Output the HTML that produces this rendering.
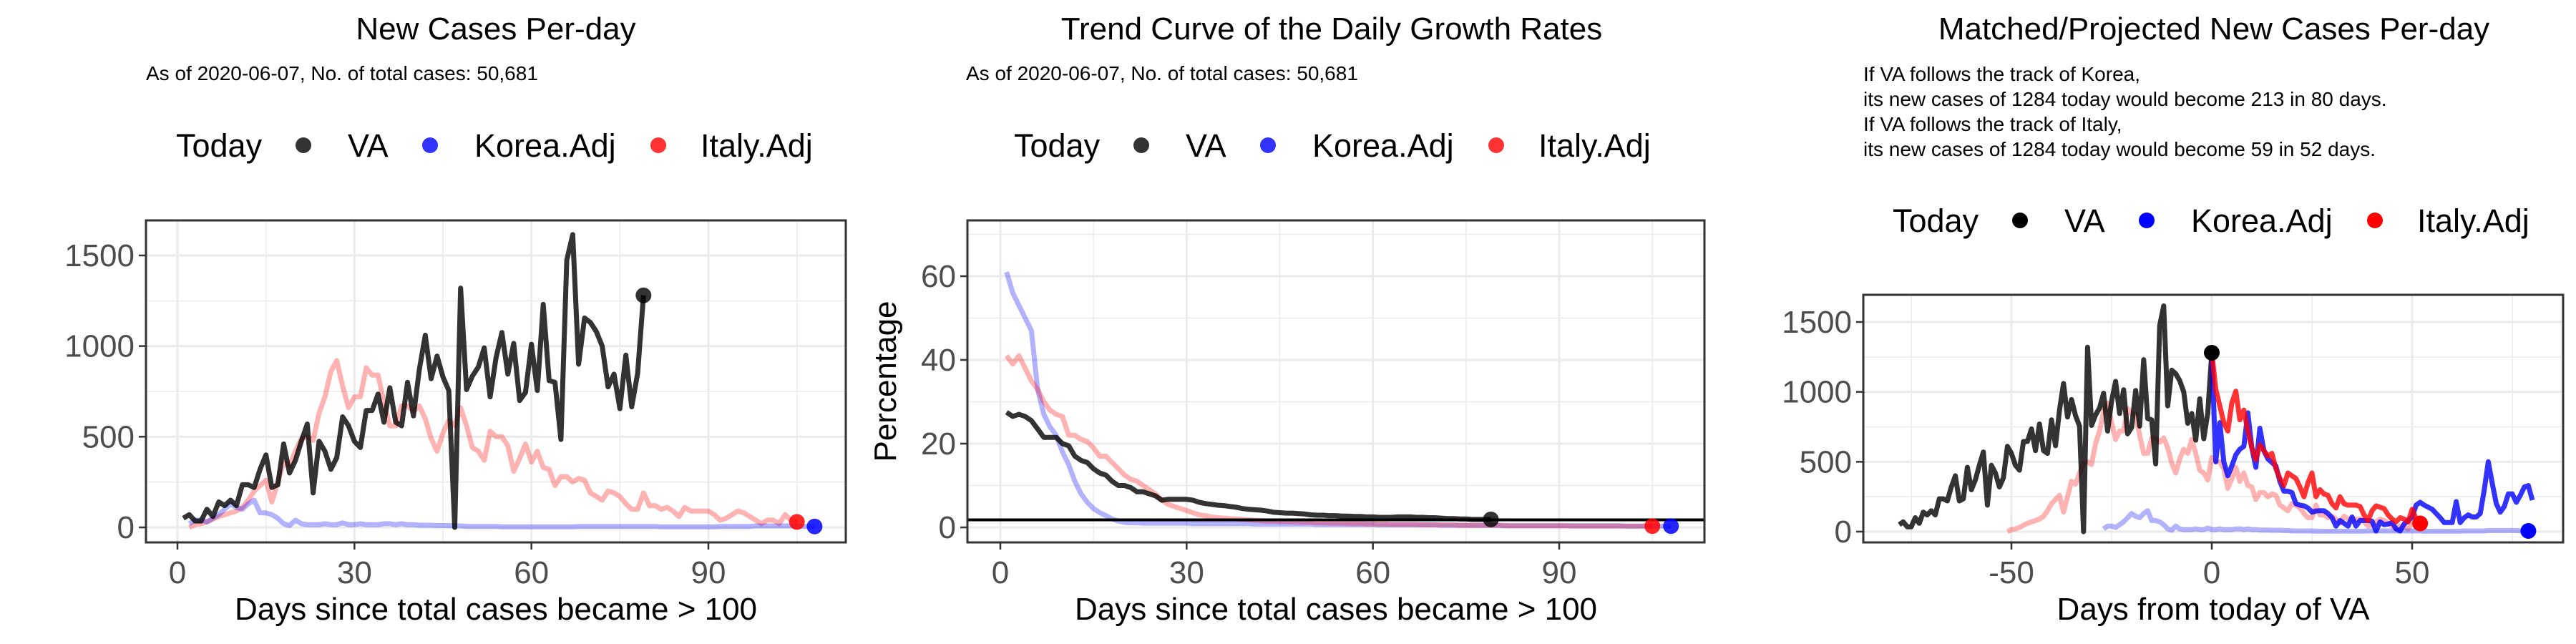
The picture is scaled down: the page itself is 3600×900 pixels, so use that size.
<!DOCTYPE html>
<html><head><meta charset="utf-8"><style>
html,body{margin:0;padding:0;background:#fff;}
svg{display:block;font-family:"Liberation Sans",Arial,sans-serif;}
</style></head><body>
<svg id="chart" width="3600" height="900" viewBox="0 0 3600 900" xmlns="http://www.w3.org/2000/svg">
<rect x="0" y="0" width="3600" height="900" fill="#fff"/>
<!-- Titles -->
<text x="693" y="55" font-size="44" text-anchor="middle">New Cases Per-day</text>
<text x="204" y="112" font-size="28">As of 2020-06-07, No. of total cases: 50,681</text>
<text x="1861" y="55" font-size="44" text-anchor="middle">Trend Curve of the Daily Growth Rates</text>
<text x="1350" y="112" font-size="28">As of 2020-06-07, No. of total cases: 50,681</text>
<text x="3094" y="55" font-size="44" text-anchor="middle">Matched/Projected New Cases Per-day</text>
<g font-size="28">
<text x="2604" y="113">If VA follows the track of Korea,</text>
<text x="2604" y="148">its new cases of 1284 today would become 213 in 80 days.</text>
<text x="2604" y="183">If VA follows the track of Italy,</text>
<text x="2604" y="218">its new cases of 1284 today would become 59 in 52 days.</text>
</g>
<g id="layer"></g>
</svg>
<script>
// ---------- data ----------
const vaStartDay = 1;
const vaCases = [50,70,35,35,100,60,140,120,150,120,235,235,220,320,400,220,235,460,300,370,475,570,190,475,420,320,385,610,560,475,440,645,645,735,580,770,580,560,800,615,870,1060,820,945,830,755,0,1320,760,835,885,990,720,935,1075,845,1015,700,745,1010,755,1230,810,800,485,1475,1615,900,1155,1130,1080,1000,775,845,655,950,665,850,1280];
const italyStartDay = 2;
const italyCases = [0,15,20,30,45,60,70,80,90,110,150,200,230,260,140,250,360,340,420,490,500,480,630,720,860,920,780,660,720,720,880,840,840,690,560,560,670,670,640,670,600,490,420,520,590,560,660,560,440,420,370,530,500,500,450,310,380,460,360,420,330,320,230,280,280,250,270,260,190,170,150,200,190,170,130,100,100,190,120,120,100,110,90,60,110,90,90,90,90,70,40,50,70,90,80,60,40,20,40,40,20,70,40,30];
const koreaStartDay = 2;
const koreaCases = [20,40,40,30,50,70,100,130,110,100,130,150,80,80,70,50,20,10,40,20,15,15,15,20,15,15,25,15,15,20,15,15,15,20,20,15,20,15,15,12,12,12,10,10,10,8,8,5,5,5,5,5,5,3,3,3,3,3,3,3,3,3,3,3,3,3,5,5,5,5,5,5,5,5,5,5,5,5,5,5,3,3,3,3,3,3,3,3,3,3,5,5,5,5,5,5,8,8,8,8,8,8,8,8,5,5,5];

const vaGrowth = [27.5,26.5,27,26.5,25.5,23.5,21.5,21.5,21.5,20,19.5,17,16,15.5,14,13,12.5,11,10,10,9.5,8.5,8.5,8,7.5,6.5,6.7,6.7,6.7,6.7,6.5,6,5.7,5.5,5.3,5.2,5,4.8,4.5,4.3,4.2,4.1,3.9,3.6,3.5,3.4,3.4,3.3,3.2,3.0,2.9,2.9,2.8,2.8,2.7,2.7,2.6,2.6,2.5,2.5,2.4,2.4,2.4,2.5,2.5,2.5,2.4,2.4,2.3,2.3,2.2,2.1,2.1,2.0,2.0,1.9,1.9,1.9,1.9];
const italyGrowth = [41,39,41,38,35,33,30,28,27,26.5,22,22,21,20.5,19,17,17,15.5,14,12.5,11.5,11,10,9,8,6.5,5.5,5,4.5,4,3.5,3,2.8,2.5,2.3,2.2,2.1,2.0,1.9,1.8,1.7,1.6,1.5,1.5,1.4,1.4,1.3,1.3,1.2,1.2,1.1,1.1,1.0,1.0,1.0,0.9,0.9,0.9,0.8,0.8,0.8,0.8,0.7,0.7,0.7,0.7,0.7,0.6,0.6,0.6,0.6,0.6,0.6,0.5,0.5,0.5,0.5,0.5,0.5,0.5,0.5,0.4,0.4,0.4,0.4,0.4,0.4,0.4,0.4,0.4,0.4,0.3,0.3,0.3,0.3,0.3,0.3,0.3,0.3,0.3,0.3,0.3,0.3,0.3,0.3];
const koreaGrowth = [61,56,53,50,47,33,27,24,22,18,15,11,8,6,4.5,3.5,2.8,2,1.5,1.2,1.1,1.1,1.0,1.0,1.0,1.0,1.0,1.0,1.0,1.0,0.9,0.9,0.9,0.9,0.9,0.9,0.9,0.9,0.9,0.9,0.8,0.8,0.8,0.8,0.8,0.8,0.8,0.8,0.8,0.8,0.7,0.7,0.7,0.7,0.7,0.7,0.7,0.7,0.7,0.7,0.6,0.6,0.6,0.6,0.6,0.6,0.6,0.6,0.6,0.6,0.5,0.5,0.5,0.5,0.5,0.5,0.5,0.5,0.5,0.5,0.4,0.4,0.4,0.4,0.4,0.4,0.4,0.4,0.4,0.4,0.4,0.4,0.4,0.4,0.4,0.4,0.4,0.4,0.4,0.4,0.3,0.3,0.3,0.3,0.3,0.3,0.3,0.3];
const growthRefLine = 1.8;

const vaTodayDay = 79;
const italyMatchDay = 53;
const koreaMatchDay = 29;
const koreaProjected = [1284,500,780,500,400,470,550,590,610,850,600,460,740,580,520,495,470,360,290,290,280,200,190,185,170,140,148,150,150,130,100,40,80,60,40,105,40,80,80,80,75,5,70,50,55,65,20,5,55,80,105,190,210,190,175,160,130,100,65,65,65,215,65,100,120,105,105,130,300,500,345,200,140,180,270,270,210,260,320,330,225];
const italyProjected = [1284,1020,900,780,720,920,1005,800,870,720,600,515,620,580,540,560,450,380,330,420,400,380,320,250,350,420,250,300,270,260,200,170,250,200,190,190,190,180,120,80,150,185,175,165,120,90,70,100,90,70,160,90,59];

const p1XTicks = [0,30,60,90];
const p1YTicks = [0,500,1000,1500];
const p2YTicks = [0,20,40,60];
const p3XTicks = [-50,0,50];
const p3YTicks = [0,500,1000,1500];

// ---------- helpers ----------
const NS = "http://www.w3.org/2000/svg";
const layer = document.getElementById('layer');
function mk(tag, attrs, parent) {
  const e = document.createElementNS(NS, tag);
  for (const k in attrs) e.setAttribute(k, attrs[k]);
  (parent || layer).appendChild(e);
  return e;
}
function linScale(d0, d1, r0, r1) { return v => r0 + (v - d0) * (r1 - r0) / (d1 - d0); }

function panel(cfg) {
  const g = mk('g', {});
  
  
  const {x0, x1, y0, y1, sx, sy} = cfg;
  // minor grid
  cfg.xMinor.forEach(v => { const gx = sx(v); if (gx > x0 && gx < x1) { const l = mk('line', {x1: gx, x2: gx, y1: y0, y2: y1, stroke: '#ebebeb', 'stroke-width': 1.5}, g);   } });
  cfg.yMinor.forEach(v => { const gy = sy(v); if (gy > y0 && gy < y1) { const l = mk('line', {x1: x0, x2: x1, y1: gy, y2: gy, stroke: '#ebebeb', 'stroke-width': 1.5}, g);   } });
  cfg.xTicks.forEach(v => {
    const gx = sx(v);
    const l = mk('line', {x1: gx, x2: gx, y1: y0, y2: y1, stroke: '#ebebeb', 'stroke-width': 3}, g);
     
    const t = mk('line', {x1: gx, x2: gx, y1: y1, y2: y1 + 10, stroke: '#333', 'stroke-width': 2.5}, g);
     
    const tx = mk('text', {x: gx, y: y1 + 57, 'font-size': 44, fill: '#4d4d4d', 'text-anchor': 'middle'}, g);
     
    tx.textContent = String(v);
  });
  cfg.yTicks.forEach(v => {
    const gy = sy(v);
    const l = mk('line', {x1: x0, x2: x1, y1: gy, y2: gy, stroke: '#ebebeb', 'stroke-width': 3}, g);
     
    const t = mk('line', {x1: x0 - 10, x2: x0, y1: gy, y2: gy, stroke: '#333', 'stroke-width': 2.5}, g);
     
    const ty = mk('text', {x: x0 - 16, y: gy + 15, 'font-size': 44, fill: '#4d4d4d', 'text-anchor': 'end'}, g);
     
    ty.textContent = String(v);
  });
  const xt = mk('text', {x: (x0 + x1) / 2 + 0, y: 866, 'font-size': 44, 'text-anchor': 'middle'}, g);
   
  xt.textContent = cfg.xTitle;
  if (cfg.yTitle) {
    const yt = mk('text', {x: 0, y: 0, 'font-size': 44, 'text-anchor': 'middle', transform: 'translate(' + cfg.yTitleX + ',' + ((y0 + y1) / 2) + ') rotate(-90)'}, g);
     
    yt.textContent = cfg.yTitle;
  }
  const clip = mk('clipPath', {id: cfg.name + '-clip'}, g);
  mk('rect', {x: x0, y: y0, width: x1 - x0, height: y1 - y0}, clip);
  const plot = mk('g', {'clip-path': 'url(#' + cfg.name + '-clip)'}, g);
   
  cfg.plot = plot;
  cfg.g = g;
  return cfg;
}
function frame(cfg) {
  const r = mk('rect', {x: cfg.x0, y: cfg.y0, width: cfg.x1 - cfg.x0, height: cfg.y1 - cfg.y0, fill: 'none', stroke: '#333', 'stroke-width': 3}, cfg.g);
   
}
function series(cfg, values, startX, color, name, w) {
  const pts = values.map((v, i) => cfg.sx(startX + i).toFixed(1) + ',' + cfg.sy(v).toFixed(1)).join(' ');
  const p = mk('polyline', {points: pts, fill: 'none', stroke: color, 'stroke-width': w || 7, 'stroke-linejoin': 'round'}, cfg.plot);
  
  
}
function dot(cfg, xv, yv, color, name) {
  const c = mk('circle', {cx: cfg.sx(xv), cy: cfg.sy(yv), r: 11, fill: color}, cfg.plot);
  
  
}
function legend(ox, oy, cols) {
  const g = mk('g', {'font-size': 45});
  
  
  const t = mk('text', {x: ox, y: oy + 16}, g); t.textContent = 'Today';
  const items = [['VA', 178, 240, cols[0]], ['Korea.Adj', 355, 417, cols[1]], ['Italy.Adj', 674, 733, cols[2]]];
  items.forEach(it => {
    const c = mk('circle', {cx: ox + it[1], cy: oy, r: 11, fill: it[3]}, g);
    
    
    const tx = mk('text', {x: ox + it[2], y: oy + 16}, g);
    
    
    tx.textContent = it[0];
  });
}

const lightBlue = 'rgba(0,0,255,0.3)', lightRed = 'rgba(255,0,0,0.3)', vaCol = 'rgba(0,0,0,0.8)';

// ---------- panel 1 ----------
const P1 = panel({name: 'panel-new-cases', x0: 204, x1: 1182, y0: 308, y1: 758,
  sx: linScale(0, 90, 248, 990), sy: linScale(0, 1500, 737, 357),
  xTicks: p1XTicks, yTicks: p1YTicks, xMinor: [15, 45, 75, 105], yMinor: [250, 750, 1250],
  xTitle: 'Days since total cases became > 100'});
series(P1, italyCases, italyStartDay, lightRed, 'italy-adj-line');
series(P1, koreaCases, koreaStartDay, lightBlue, 'korea-adj-line');
series(P1, vaCases, vaStartDay, vaCol, 'va-line');
dot(P1, vaStartDay + vaCases.length - 1, vaCases[vaCases.length - 1], vaCol, 'va-today-dot');
dot(P1, italyStartDay + italyCases.length - 1, italyCases[italyCases.length - 1], 'rgba(255,0,0,0.85)', 'italy-today-dot');
dot(P1, koreaStartDay + koreaCases.length - 1, koreaCases[koreaCases.length - 1], 'rgba(0,0,255,0.85)', 'korea-today-dot');
frame(P1);
legend(246, 203, ['#333', '#3333ff', '#ff3333']);

// ---------- panel 2 ----------
const P2 = panel({name: 'panel-growth-rates', x0: 1352, x1: 2382, y0: 308, y1: 758,
  sx: linScale(0, 90, 1398, 2179), sy: linScale(0, 60, 737, 386),
  xTicks: p1XTicks, yTicks: p2YTicks, xMinor: [15, 45, 75, 105], yMinor: [10, 30, 50, 70],
  xTitle: 'Days since total cases became > 100', yTitle: 'Percentage', yTitleX: 1252});
series(P2, koreaGrowth, 1, lightBlue, 'korea-growth-line');
series(P2, italyGrowth, 1, lightRed, 'italy-growth-line');
series(P2, vaGrowth, 1, vaCol, 'va-growth-line');
{
  const ry = P2.sy(growthRefLine);
  const l = mk('line', {x1: P2.x0, x2: P2.x1, y1: ry, y2: ry, stroke: '#000', 'stroke-width': 4}, P2.plot);
  
  
}
dot(P2, vaGrowth.length, vaGrowth[vaGrowth.length - 1], vaCol, 'va-growth-today-dot');
dot(P2, italyGrowth.length, italyGrowth[italyGrowth.length - 1], 'rgba(255,0,0,0.85)', 'italy-growth-today-dot');
dot(P2, koreaGrowth.length, koreaGrowth[koreaGrowth.length - 1], 'rgba(0,0,255,0.85)', 'korea-growth-today-dot');
frame(P2);
legend(1417, 203, ['#333', '#3333ff', '#ff3333']);

// ---------- panel 3 ----------
const P3 = panel({name: 'panel-projected', x0: 2604, x1: 3582, y0: 412, y1: 758,
  sx: linScale(0, 50, 3091, 3371), sy: linScale(0, 1500, 743, 450),
  xTicks: p3XTicks, yTicks: p3YTicks, xMinor: [-75, -25, 25, 75], yMinor: [250, 750, 1250],
  xTitle: 'Days from today of VA'});
series(P3, italyCases, italyStartDay - italyMatchDay, lightRed, 'italy-matched-line');
series(P3, koreaCases, koreaStartDay - koreaMatchDay, lightBlue, 'korea-matched-line');
series(P3, vaCases, vaStartDay - vaTodayDay, vaCol, 'va-line');
series(P3, koreaProjected, 0, 'rgba(0,0,255,0.8)', 'korea-projection-line');
series(P3, italyProjected, 0, 'rgba(255,0,0,0.8)', 'italy-projection-line');
dot(P3, 0, vaCases[vaCases.length - 1], '#000', 'va-today-dot');
dot(P3, italyProjected.length - 1, italyProjected[italyProjected.length - 1], '#ff0000', 'italy-projection-end-dot');
dot(P3, koreaCases.length + koreaStartDay - 1 - koreaMatchDay, koreaCases[koreaCases.length - 1], '#0000ff', 'korea-projection-end-dot');
frame(P3);
legend(2645, 308, ['#000', '#0000ff', '#ff0000']);
</script>
</body></html>
